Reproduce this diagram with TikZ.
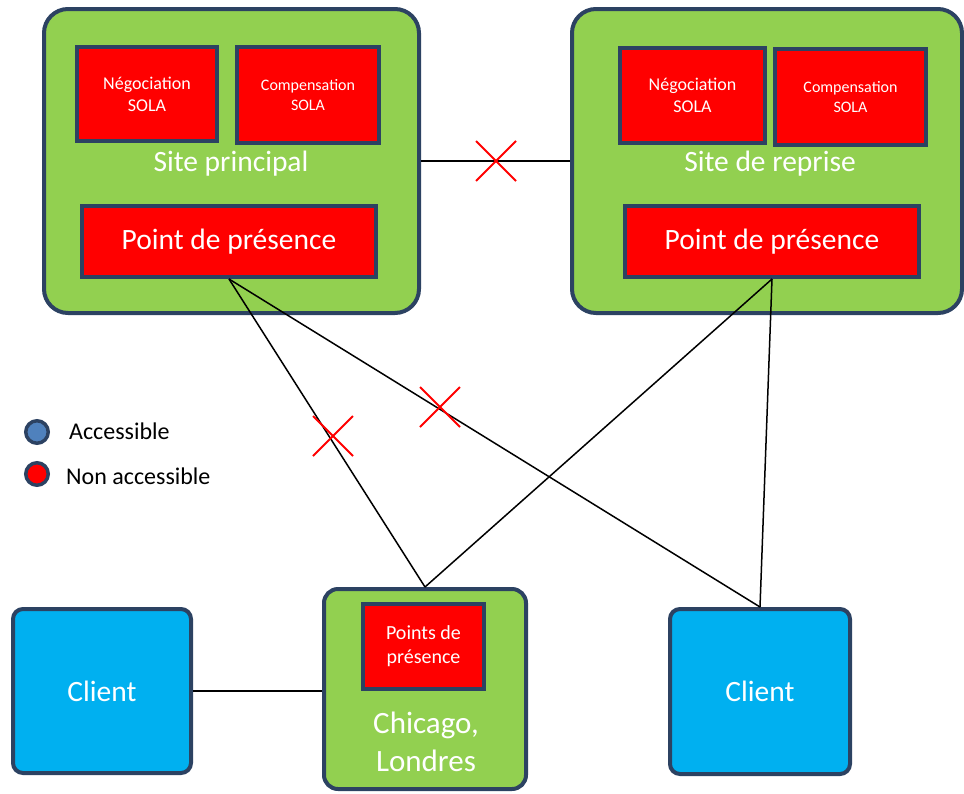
\documentclass[tikz,border=0pt]{standalone}
\usepackage{fontspec}
\setmainfont{Carlito}
\usetikzlibrary{positioning,shapes.misc}
\definecolor{sitegreen}{HTML}{92D050}
\definecolor{popred}{HTML}{FF0000}
\definecolor{navyline}{HTML}{2C4262}
\definecolor{clientblue}{HTML}{00B0F0}
\definecolor{legblue}{HTML}{4F81BD}
\newcommand{\fsz}[2]{\fontsize{#1}{#2}\selectfont}

\begin{document}
\begin{tikzpicture}[x=1pt,y=-1pt,
    site/.style={draw=navyline, line width=4pt, fill=sitegreen, rounded corners=24pt, inner sep=0pt},
    popbox/.style={draw=navyline, line width=4pt, fill=popred, text=white, align=center, inner sep=0pt},
    clientbox/.style={draw=navyline, line width=4pt, fill=clientblue, text=white, rounded corners=10pt, inner sep=0pt},
    whitelabel/.style={text=white, align=center, inner sep=0pt},
    link/.style={line width=1.5pt, black},
    cut/.style={cross out, draw=popred, line width=2pt, minimum size=38pt, inner sep=0pt},
    legdot/.style={circle, draw=navyline, line width=3.5pt, minimum size=22.5pt, inner sep=0pt}]
    \useasboundingbox (0,0) rectangle (964,793);

    % les deux sites
    \node[site, minimum width=375pt, minimum height=304pt] (princ) at (231.5,161) {};
    \node[site, minimum width=390pt, minimum height=304pt] (repr) at (767,161) {};
    \node[whitelabel, font=\fsz{29.5}{34}] (lprinc) at (231,164) {Site principal};
    \node[whitelabel, font=\fsz{29.5}{34}] (lrepr) at (770,164) {Site de reprise};

    \node[popbox, minimum width=140pt, minimum height=94pt, font=\fsz{18}{22}] (negp) at (147,94) {Négociation\\SOLA};
    \node[popbox, minimum width=142pt, minimum height=96pt, font=\fsz{16}{20}] (compp) at (308,95) {Compensation\\SOLA};
    \node[popbox, minimum width=294pt, minimum height=71pt, font=\fsz{29.5}{34}] (popp) at (229,241.5) {Point de présence};

    \node[popbox, minimum width=145pt, minimum height=95pt, font=\fsz{18}{22}] (negr) at (692.5,95.5) {Négociation\\SOLA};
    \node[popbox, minimum width=151pt, minimum height=96pt, font=\fsz{16}{20}] (compr) at (850.5,97) {Compensation\\SOLA};
    \node[popbox, minimum width=294pt, minimum height=71pt, font=\fsz{29.5}{34}] (popr) at (772,241.5) {Point de présence};

    % clients et points de presence
    \node[clientbox, minimum width=178pt, minimum height=164pt, font=\fsz{29.5}{34}] (cligauche) at (102,691) {Client};
    \node[clientbox, minimum width=180pt, minimum height=165pt, font=\fsz{29.5}{34}] (clidroite) at (760,691.5) {Client};
    \node[site, rounded corners=14pt, minimum width=202pt, minimum height=200pt] (villes) at (425,689) {};
    \node[whitelabel, font=\fsz{31}{38}] (lvilles) at (426,742) {Chicago,\\Londres};
    \node[popbox, minimum width=121pt, minimum height=85pt, font=\fsz{20}{24}] (popv) at (423.5,646.5) {Points de\\présence};

    % liens
    \draw[link] (princ.east) -- (repr.west);
    \draw[link] (popp.south) -- (villes.north);
    \draw[link] (popp.south) -- (clidroite.north);
    \draw[link] (popr.south) -- (villes.north);
    \draw[link] (popr.south) -- (clidroite.north);
    \draw[link] (cligauche.east) -- (villes.west |- cligauche.east);

    % coupures
    \node[cut] (x1) at (496,161) {};
    \node[cut] (x2) at (333,436) {};
    \node[cut] (x3) at (440,407) {};

    % legende
    \node[legdot, fill=legblue] (acc) at (37,432) {};
    \node[legdot, fill=popred] (nonacc) at (37,474) {};
    \node[anchor=west, inner sep=0pt, font=\fsz{24}{28}] (lacc) at (69,431) {Accessible};
    \node[anchor=west, inner sep=0pt, font=\fsz{24}{28}] (lnonacc) at (66,476) {Non accessible};
\end{tikzpicture}
\end{document}
